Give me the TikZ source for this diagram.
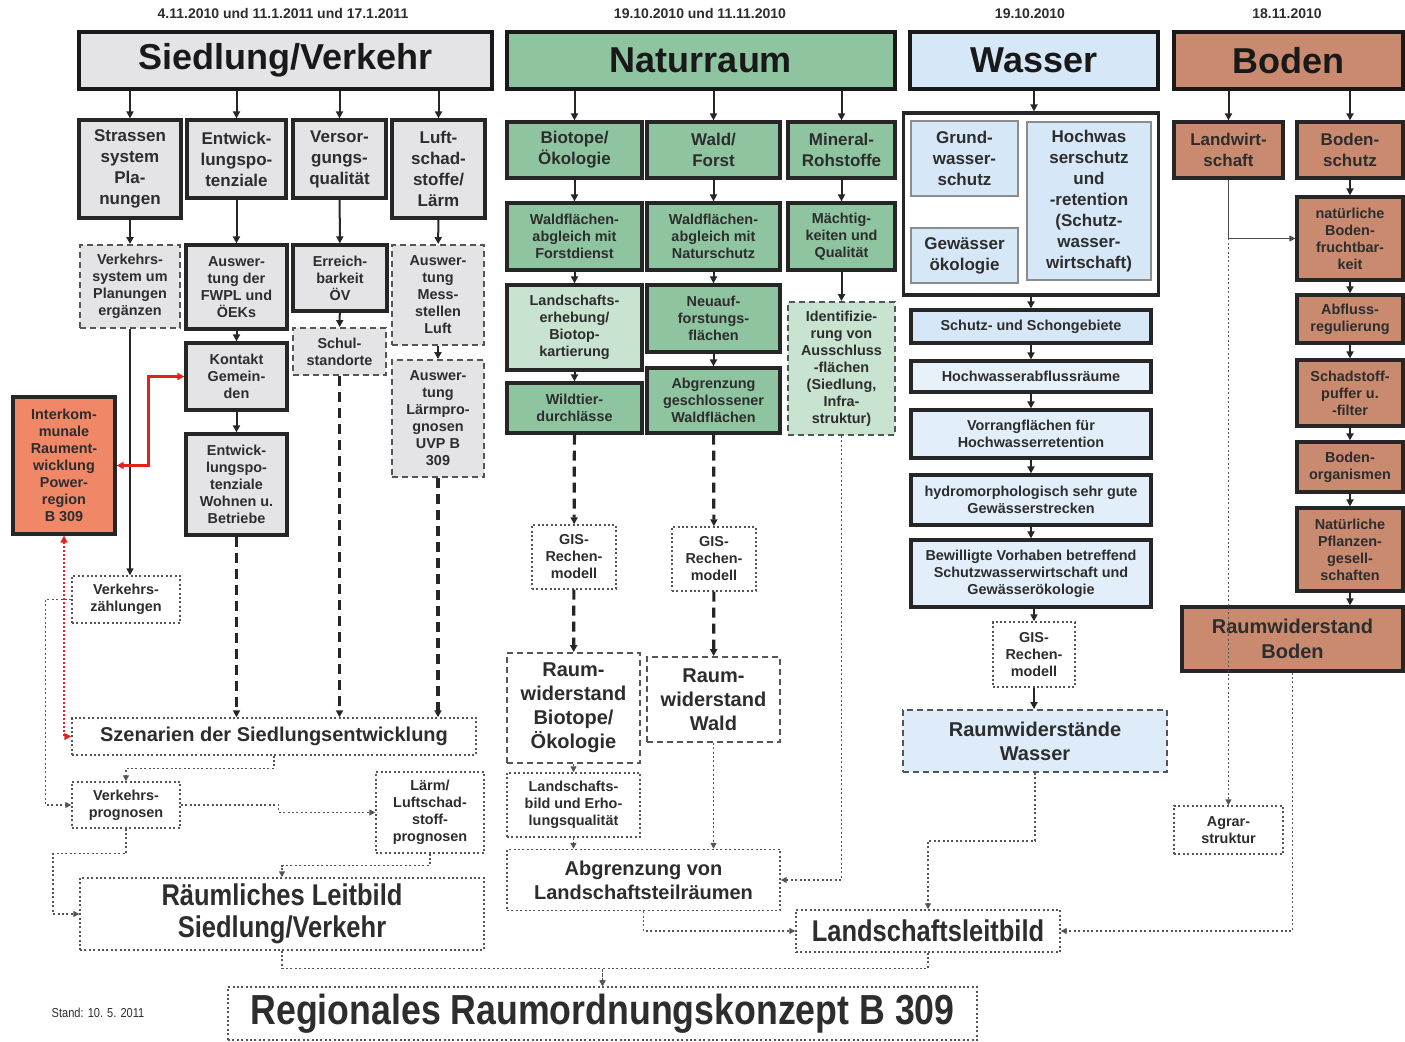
\documentclass[tikz,border=0pt]{standalone}
\usepackage{fontspec}
\setmainfont{Liberation Sans}
\newfontfamily\narrowfont[FakeStretch=0.85]{Liberation Sans}
\usetikzlibrary{arrows.meta}

\definecolor{sgray}{RGB}{228,228,231}
\definecolor{ngreen}{RGB}{143,196,160}
\definecolor{lgreen}{RGB}{200,227,208}
\definecolor{wblue}{RGB}{214,231,247}
\definecolor{bbrown}{RGB}{201,138,112}
\definecolor{iorange}{RGB}{240,136,104}
\definecolor{txt}{RGB}{45,45,45}
\definecolor{dline}{RGB}{85,85,85}
\definecolor{rline}{RGB}{225,35,30}

\tikzstyle{head} = [rectangle, draw=black!90, line width=2pt, text=black!90,
    font=\fontsize{18}{20}\selectfont\bfseries]
\tikzstyle{block} = [rectangle, draw=black!85, line width=1.6pt, text=txt, align=center, inner sep=1pt]
\tikzstyle{dashbox} = [rectangle, draw=dline, line width=0.9pt, dash pattern=on 3pt off 2pt,
    text=txt, align=center, inner sep=1pt]
\tikzstyle{dotbox} = [rectangle, draw=dline, line width=0.7pt, dash pattern=on 1pt off 1.2pt,
    fill=white, text=txt, align=center, inner sep=1pt]
\tikzstyle{inbox} = [rectangle, draw=black!45, line width=0.6pt, fill=wblue, text=txt, align=center, inner sep=1pt]
\tikzstyle{fbig} = [font=\fontsize{8.5}{10.5}\selectfont\bfseries]
\tikzstyle{fsmall} = [font=\fontsize{7.2}{8.5}\selectfont\bfseries]
\tikzstyle{fraum} = [font=\fontsize{10}{12}\selectfont\bfseries]
\tikzstyle{fleit} = [font=\narrowfont\bfseries\fontsize{15}{16}\selectfont]
\tikzstyle{arrow} = [-{Triangle[length=3.5pt,width=3.5pt]}, line width=1pt, black!85]
\tikzstyle{thinarrow} = [-{Triangle[length=3pt,width=3pt]}, line width=0.6pt, black!70]
\tikzstyle{dasharrow} = [arrow, line width=1.6pt, dash pattern=on 5pt off 3pt]
\tikzstyle{dotarrow} = [-{Triangle[length=3pt,width=3pt]}, line width=0.7pt, dline, dash pattern=on 1pt off 1.2pt]
\tikzstyle{redarrow} = [{Triangle[length=3.5pt,width=3.5pt]}-{Triangle[length=3.5pt,width=3.5pt]}, line width=1.2pt, rline]
\tikzstyle{reddot} = [{Triangle[length=3.5pt,width=3.5pt]}-{Triangle[length=3.5pt,width=3.5pt]}, line width=0.7pt, rline,
    dash pattern=on 1pt off 1pt]
\tikzset{wh/.style 2 args={minimum width=#1*0.5pt, minimum height=#2*0.5pt}}

\begin{document}
\begin{tikzpicture}[x=0.5pt, y=-0.5pt]
        \useasboundingbox (0,0) rectangle (1405,1042);

        % Dates
        \node (dsv) [font=\fontsize{7}{8}\selectfont\bfseries, text=txt] at (283,14) {4.11.2010 und 11.1.2011 und 17.1.2011};
        \node (dnat) [font=\fontsize{7}{8}\selectfont\bfseries, text=txt] at (700,14) {19.10.2010 und 11.11.2010};
        \node (dwas) [font=\fontsize{7}{8}\selectfont\bfseries, text=txt] at (1030,14) {19.10.2010};
        \node (dbod) [font=\fontsize{7}{8}\selectfont\bfseries, text=txt] at (1287,14) {18.11.2010};

        % Headers
        \node (hsv) [head, fill=sgray, wh={413}{57}] at (285.5,60.5) {Siedlung/Verkehr};
        \node (hnat) [head, fill=ngreen, wh={388}{57}] at (701,60.5) {Naturraum};
        \node (hwas) [head, fill=wblue, wh={248}{57}] at (1034,60.5) {Wasser};
        \node (hbod) [head, fill=bbrown, wh={229}{57}] at (1288.5,60.5) {Boden};

        % Siedlung/Verkehr
        \node (strassen) [block, fbig, fill=sgray, wh={102}{98}] at (130,169) {Strassen\\system\\Pla-\\nungen};
        \node (entw) [block, fbig, fill=sgray, wh={99}{78}] at (236.5,159) {Entwick-\\lungspo-\\tenziale};
        \node (versor) [block, fbig, fill=sgray, wh={93}{78}] at (339.5,159) {Versor-\\gungs-\\qualität};
        \node (luft) [block, fbig, fill=sgray, wh={93}{98}] at (438.5,169) {Luft-\\schad-\\stoffe/\\Lärm};
        \node (vsys) [dashbox, fsmall, fill=sgray, wh={100}{83}] at (130,286.5) {Verkehrs-\\system um\\Planungen\\ergänzen};
        \node (ausw1) [block, fsmall, fill=sgray, wh={101}{84}] at (236.5,287) {Auswer-\\tung der\\FWPL und\\ÖEKs};
        \node (erreich) [block, fsmall, fill=sgray, wh={94}{66}] at (340,278) {Erreich-\\barkeit\\ÖV};
        \node (ausw2) [dashbox, fsmall, fill=sgray, wh={92}{100}] at (438,295) {Auswer-\\tung\\Mess-\\stellen\\Luft};
        \node (schul) [dashbox, fsmall, fill=sgray, wh={93}{47}] at (339.5,351.5) {Schul-\\standorte};
        \node (kontakt) [block, fsmall, fill=sgray, wh={101}{67}] at (236.5,376.5) {Kontakt\\Gemein-\\den};
        \node (ausw3) [dashbox, fsmall, fill=sgray, wh={92}{117}] at (438,418.5) {Auswer-\\tung\\Lärmpro-\\gnosen\\UVP B\\309};
        \node (entw2) [block, fsmall, fill=sgray, wh={101}{101}] at (236.5,484.5) {Entwick-\\lungspo-\\tenziale\\Wohnen u.\\Betriebe};
        \node (interkom) [block, fsmall, fill=iorange, wh={102}{137}] at (64,465.5) {Interkom-\\munale\\Raument-\\wicklung\\Power-\\region\\B 309};
        \node (vzaehl) [dotbox, fsmall, wh={108}{47}] at (126,599.5) {Verkehrs-\\zählungen};
        \node (szen) [dotbox, fraum, wh={404}{37}] at (274,736.5) {Szenarien der Siedlungsentwicklung};
        \node (vprog) [dotbox, fsmall, wh={108}{46}] at (126,805) {Verkehrs-\\prognosen};
        \node (lprog) [dotbox, fsmall, wh={108}{81}] at (430,812.5) {Lärm/\\Luftschad-\\stoff-\\prognosen};
        \node (leitsv) [dotbox, fleit, wh={404}{72}] at (282,914) {Räumliches Leitbild\\Siedlung/Verkehr};
        \node (regio) [dotbox, font=\narrowfont\bfseries\fontsize{21}{22}\selectfont, wh={749}{53}] at (602.5,1013.5) {Regionales Raumordnungskonzept B 309};
        \node (stand) [font=\narrowfont\fontsize{6.5}{8}\selectfont, text=txt] at (98,1013) {Stand: 10. 5. 2011};

        % Naturraum
        \node (biot) [block, fbig, fill=ngreen, wh={135}{56}] at (574.5,150) {Biotope/\\Ökologie};
        \node (wald) [block, fbig, fill=ngreen, wh={133}{56}] at (713.5,150) {Wald/\\Forst};
        \node (miner) [block, fbig, fill=ngreen, wh={107}{56}] at (841.5,150) {Mineral-\\Rohstoffe};
        \node (wfl1) [block, fsmall, fill=ngreen, wh={135}{67}] at (574.5,236.5) {Waldflächen-\\abgleich mit\\Forstdienst};
        \node (wfl2) [block, fsmall, fill=ngreen, wh={133}{67}] at (713.5,236.5) {Waldflächen-\\abgleich mit\\Naturschutz};
        \node (maech) [block, fsmall, fill=ngreen, wh={107}{67}] at (841.5,236.5) {Mächtig-\\keiten und\\Qualität};
        \node (lerheb) [block, fsmall, fill=lgreen, wh={135}{85}] at (574.5,327.5) {Landschafts-\\erhebung/\\Biotop-\\kartierung};
        \node (neuauf) [block, fsmall, fill=ngreen, wh={133}{67}] at (713.5,318.5) {Neuauf-\\forstungs-\\flächen};
        \node (ident) [dashbox, fsmall, fill=lgreen, wh={107}{133}] at (841.5,368.5) {Identifizie-\\rung von\\Ausschluss\\-flächen\\(Siedlung,\\Infra-\\struktur)};
        \node (wild) [block, fsmall, fill=ngreen, wh={135}{50}] at (574.5,408) {Wildtier-\\durchlässe};
        \node (abgrw) [block, fsmall, fill=ngreen, wh={133}{65}] at (713.5,400.5) {Abgrenzung\\geschlossener\\Waldflächen};
        \node (gis1) [dotbox, fsmall, wh={84}{64}] at (574,557) {GIS-\\Rechen-\\modell};
        \node (gis2) [dotbox, fsmall, wh={84}{64}] at (714,559) {GIS-\\Rechen-\\modell};
        \node (rwbio) [dashbox, fraum, fill=white, wh={133}{110}] at (573.5,708) {Raum-\\widerstand\\Biotope/\\Ökologie};
        \node (rwwald) [dashbox, fraum, fill=white, wh={133}{85}] at (713.5,699.5) {Raum-\\widerstand\\Wald};
        \node (lbild) [dotbox, fsmall, wh={133}{64}] at (573.5,805) {Landschafts-\\bild und Erho-\\lungsqualität};
        \node (abgrl) [dotbox, fraum, wh={273}{61}] at (643.5,880) {Abgrenzung von\\Landschaftsteilräumen};
        \node (lleit) [dotbox, fleit, wh={264}{42}] at (928,931) {Landschaftsleitbild};

        % Wasser
        \node (wout) [block, fill=white, wh={255}{182}] at (1031,204) {};
        \node (grund) [inbox, fbig, wh={107}{75}] at (964.5,158.5) {Grund-\\wasser-\\schutz};
        \node (gewoek) [inbox, fbig, wh={107}{55}] at (964.5,255.5) {Gewässer\\ökologie};
        \node (hochw) [inbox, fbig, wh={124}{158}] at (1089,201) {Hochwas\\serschutz\\und\\-retention\\(Schutz-\\wasser-\\wirtschaft)};
        \node (schutz) [block, fsmall, fill=wblue, wh={240}{33}] at (1031,326.5) {Schutz- und Schongebiete};
        \node (hwabfl) [block, fsmall, fill=wblue!60, wh={240}{31}] at (1031,376.5) {Hochwasserabflussräume};
        \node (vorrang) [block, fsmall, fill=wblue!70, wh={240}{48}] at (1031,434) {Vorrangflächen für\\Hochwasserretention};
        \node (hydro) [block, fsmall, fill=wblue!70, wh={240}{50}] at (1031,500) {hydromorphologisch sehr gute\\Gewässerstrecken};
        \node (bewill) [block, fsmall, fill=wblue!70, wh={240}{67}] at (1031,573.5) {Bewilligte Vorhaben betreffend\\Schutzwasserwirtschaft und\\Gewässerökologie};
        \node (gis3) [dotbox, fsmall, wh={82}{65}] at (1034,654.5) {GIS-\\Rechen-\\modell};
        \node (rwwas) [dashbox, fraum, fill=wblue!80, wh={264}{62}] at (1035,741) {Raumwiderstände\\Wasser};

        % Boden
        \node (landw) [block, fbig, fill=bbrown, wh={109}{56}] at (1228.5,150) {Landwirt-\\schaft};
        \node (bschutz) [block, fbig, fill=bbrown, wh={106}{56}] at (1350,150) {Boden-\\schutz};
        \node (nbf) [block, fsmall, fill=bbrown, wh={106}{83}] at (1350,238.5) {natürliche\\Boden-\\fruchtbar-\\keit};
        \node (abfl) [block, fsmall, fill=bbrown, wh={106}{48}] at (1350,319) {Abfluss-\\regulierung};
        \node (schad) [block, fsmall, fill=bbrown, wh={106}{66}] at (1350,393) {Schadstoff-\\puffer u.\\-filter};
        \node (borg) [block, fsmall, fill=bbrown, wh={106}{50}] at (1350,467) {Boden-\\organismen};
        \node (npfl) [block, fsmall, fill=bbrown, wh={106}{83}] at (1350,549.5) {Natürliche\\Pflanzen-\\gesell-\\schaften};
        \node (rwbod) [block, font=\fontsize{10}{12.5}\selectfont\bfseries, fill=bbrown, wh={221}{64}] at (1292.5,639) {Raumwiderstand\\Boden};
        \node (agrar) [dotbox, fsmall, wh={109}{48}] at (1228.5,830) {Agrar-\\struktur};

        % Arrows Siedlung/Verkehr
        \draw[arrow] (hsv.south -| strassen) -- (strassen);
        \draw[arrow] (hsv.south -| entw) -- (entw);
        \draw[arrow] (hsv.south -| versor) -- (versor);
        \draw[arrow] (hsv.south -| luft) -- (luft);
        \draw[arrow] (strassen) -- (vsys);
        \draw[arrow] (entw) -- (ausw1);
        \draw[arrow] (ausw1) -- (kontakt);
        \draw[arrow] (kontakt) -- (entw2);
        \draw[arrow] (versor) -- (erreich);
        \draw[arrow] (erreich) -- (schul);
        \draw[arrow] (luft) -- (ausw2);
        \draw[arrow] (ausw2) -- (ausw3);
        \draw[arrow, line width=0.8pt] (vsys.south) -- (vsys.south |- vzaehl.north);
        \draw[dasharrow] (entw2) -- (entw2 |- szen.north);
        \draw[dasharrow] (schul) -- (schul |- szen.north);
        \draw[dasharrow] (ausw3) -- (ausw3 |- szen.north);
        \draw[redarrow] (kontakt.west) -- ++(-36,0) |- (interkom.east);
        \draw[reddot] (interkom.south) |- (szen.west);
        \draw[dotarrow] (vzaehl.west) -- ++(-26,0) |- (vprog.west);
        \draw[dotarrow] (szen.south) -- ++(0,13) -| (vprog.north);
        \draw[dotarrow] (vprog.east) -- ++(98,0) |- (lprog.west);
        \draw[dotarrow] (vprog.south) -- ++(0,25) -- ++(-73,0) |- (leitsv.west);
        \draw[dotarrow] (lprog.south) -- ++(0,12) -| (leitsv.north);
        \draw[dotarrow] (leitsv.south) -- ++(0,18) -| (regio.north);

        % Arrows Naturraum
        \draw[arrow] (hnat.south -| biot) -- (biot);
        \draw[arrow] (hnat.south -| wald) -- (wald);
        \draw[arrow] (hnat.south -| miner) -- (miner);
        \draw[arrow] (biot) -- (wfl1);
        \draw[arrow] (wfl1) -- (lerheb);
        \draw[arrow] (lerheb) -- (wild);
        \draw[arrow] (wald) -- (wfl2);
        \draw[arrow] (wfl2) -- (neuauf);
        \draw[arrow] (neuauf) -- (abgrw);
        \draw[arrow] (miner) -- (maech);
        \draw[arrow] (maech) -- (ident);
        \draw[dasharrow] (wild) -- (gis1);
        \draw[dasharrow] (gis1) -- (rwbio);
        \draw[dasharrow] (abgrw) -- (gis2);
        \draw[dasharrow] (gis2) -- (rwwald);
        \draw[dotarrow] (rwbio) -- (lbild);
        \draw[dotarrow] (lbild) -- (lbild |- abgrl.north);
        \draw[dotarrow] (rwwald) -- (rwwald |- abgrl.north);
        \draw[dotarrow] (ident) |- (abgrl.east);
        \draw[dotarrow] (abgrl.south) |- (lleit.west);
        \draw[dotarrow] (lleit.south) -- ++(0,16) -| (regio.north);

        % Arrows Wasser
        \draw[arrow] (hwas.south) -- (hwas.south |- wout.north);
        \draw[arrow] (wout.south) -- (wout.south |- schutz.north);
        \draw[arrow] (schutz) -- (hwabfl);
        \draw[arrow] (hwabfl) -- (vorrang);
        \draw[arrow] (vorrang) -- (hydro);
        \draw[arrow] (hydro) -- (bewill);
        \draw[arrow] (bewill.south -| gis3) -- (gis3);
        \draw[arrow] (gis3) -- (gis3 |- rwwas.north);
        \draw[dotarrow] (rwwas.south) -- ++(0,68) -| (lleit.north);

        % Arrows Boden
        \draw[arrow] (hbod.south -| landw) -- (landw);
        \draw[arrow] (hbod.south -| bschutz) -- (bschutz);
        \draw[arrow] (bschutz) -- (nbf);
        \draw[arrow] (nbf) -- (abfl);
        \draw[arrow] (abfl) -- (schad);
        \draw[arrow] (schad) -- (borg);
        \draw[arrow] (borg) -- (npfl);
        \draw[arrow] (npfl.south) -- (npfl.south |- rwbod.north);
        \coordinate (lwknick) at (landw.south |- nbf.west);
        \draw[thinarrow] (landw.south) |- (nbf.west);
        \draw[dotarrow] (lwknick) -- (agrar.north);
        \draw[dotarrow] (rwbod.south) |- (lleit.east);
\end{tikzpicture}
\end{document}
